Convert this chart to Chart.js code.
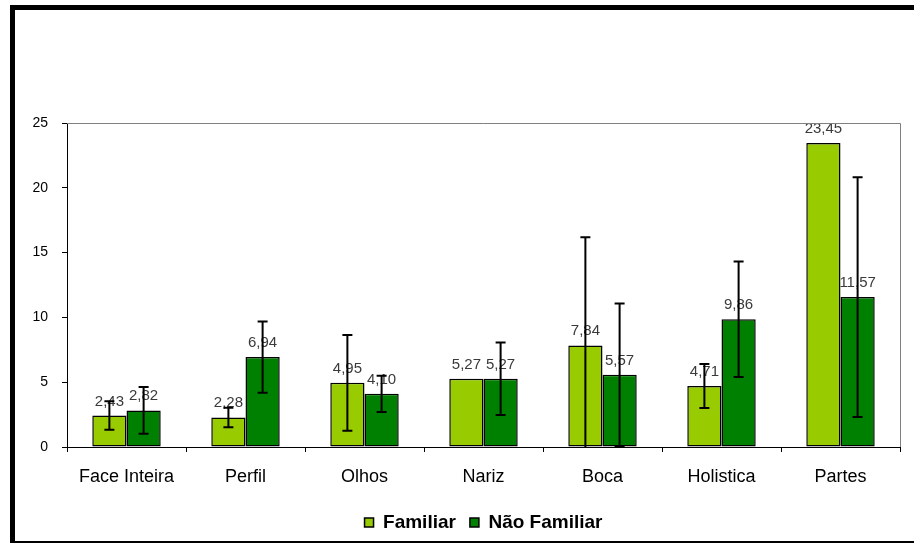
<!DOCTYPE html>
<html lang="pt">
<head>
  <meta charset="UTF-8" />
  <title>Familiar vs Não Familiar</title>
  <script src="https://cdn.jsdelivr.net/npm/chart.js"></script>
  <style>
    body { margin: 0; padding: 0; background: #fff; }
    .wrap { width: 914px; height: 543px; position: relative; }
  </style>
</head>
<body>
  <div class="wrap"><canvas id="chart" width="914" height="543"></canvas></div>
  <script>
    // data
    const categories = ['Face Inteira', 'Perfil', 'Olhos', 'Nariz', 'Boca', 'Holistica', 'Partes'];
    const familiar = [2.43, 2.28, 4.95, 5.27, 7.84, 4.71, 23.45];
    const naoFamiliar = [2.82, 6.94, 4.10, 5.27, 5.57, 9.86, 11.57];
    const familiarErr = [1.1, 0.75, 3.7, 0, 8.35, 1.7, 0];
    const naoFamiliarErr = [1.8, 2.75, 1.4, 2.8, 5.5, 4.45, 9.25];
    const yTicks = [0, 5, 10, 15, 20, 25];

    const errors = [familiarErr, naoFamiliarErr];
    const fmt = v => v.toFixed(2).replace('.', ',');

    // black frame of the slide around the chart
    const framePlugin = {
      id: 'frame',
      beforeDraw(chart) {
        const ctx = chart.ctx;
        ctx.save();
        ctx.fillStyle = '#fff';
        ctx.fillRect(0, 0, chart.width, chart.height);
        ctx.fillStyle = '#000';
        ctx.fillRect(10, 5, chart.width - 10, 5);
        ctx.fillRect(10, 5, 5, chart.height - 5);
        ctx.fillRect(10, chart.height - 2, chart.width - 10, 2);
        ctx.restore();
      },
      afterDraw(chart) {
        // grey top and right edge of the plot area
        const { ctx, chartArea: a } = chart;
        ctx.save();
        ctx.strokeStyle = '#808080';
        ctx.lineWidth = 1;
        ctx.beginPath();
        ctx.moveTo(a.left, a.top + 0.5);
        ctx.lineTo(a.right + 0.5, a.top + 0.5);
        ctx.lineTo(a.right + 0.5, a.bottom);
        ctx.stroke();
        ctx.restore();
      }
    };

    // value labels, then error bars on top of them
    const labelsAndErrors = {
      id: 'labelsAndErrors',
      afterDatasetsDraw(chart) {
        const ctx = chart.ctx;
        const y = chart.scales.y;
        const a = chart.chartArea;
        ctx.save();
        ctx.font = '15px "Liberation Sans", Arial, sans-serif';
        ctx.fillStyle = '#3a3a3a';
        ctx.textAlign = 'center';
        ctx.textBaseline = 'alphabetic';
        chart.data.datasets.forEach((ds, di) => {
          chart.getDatasetMeta(di).data.forEach((bar, i) => {
            ctx.fillText(fmt(ds.data[i]), bar.x, bar.y - 10);
          });
        });
        ctx.strokeStyle = '#000';
        ctx.lineWidth = 2;
        chart.data.datasets.forEach((ds, di) => {
          chart.getDatasetMeta(di).data.forEach((bar, i) => {
            const e = errors[di][i];
            if (!e) return;
            const v = ds.data[i];
            const top = y.getPixelForValue(v + e);
            const lowVal = v - e;
            const bot = Math.min(y.getPixelForValue(lowVal), a.bottom);
            ctx.beginPath();
            ctx.moveTo(bar.x, top);
            ctx.lineTo(bar.x, bot);
            ctx.moveTo(bar.x - 5, top);
            ctx.lineTo(bar.x + 5, top);
            if (lowVal >= 0) {
              ctx.moveTo(bar.x - 5, bot);
              ctx.lineTo(bar.x + 5, bot);
            }
            ctx.stroke();
          });
        });
        ctx.restore();
      }
    };

    Chart.defaults.font.family = '"Liberation Sans", Arial, sans-serif';
    Chart.defaults.color = '#000';

    new Chart(document.getElementById('chart'), {
      type: 'bar',
      data: {
        labels: categories,
        datasets: [
          {
            label: 'Familiar',
            data: familiar,
            backgroundColor: '#99cc00',
            borderColor: '#000',
            borderWidth: 1.5,
            borderSkipped: false,
            barPercentage: 1,
            categoryPercentage: 0.575
          },
          {
            label: 'Não Familiar',
            data: naoFamiliar,
            backgroundColor: '#008000',
            borderColor: '#000',
            borderWidth: 1.5,
            borderSkipped: false,
            barPercentage: 1,
            categoryPercentage: 0.575
          }
        ]
      },
      options: {
        responsive: false,
        animation: false,
        layout: { padding: { top: 123, left: 0, right: 14, bottom: 1 } },
        scales: {
          x: {
            grid: { display: true, drawOnChartArea: false, offset: true, tickLength: 5, color: '#000' },
            border: { color: '#000', width: 1 },
            ticks: { font: { size: 18 }, padding: 14, maxRotation: 0 },
            afterFit: s => { s.height = 52; }
          },
          y: {
            min: 0,
            max: 25,
            afterBuildTicks: s => { s.ticks = yTicks.map(v => ({ value: v })); },
            grid: { display: true, drawOnChartArea: false, tickLength: 5, color: '#000' },
            border: { color: '#000', width: 1 },
            ticks: { font: { size: 14 }, padding: 14 },
            afterFit: s => { s.width = 67; }
          }
        },
        plugins: {
          legend: {
            position: 'bottom',
            fullSize: false,
            labels: {
              boxWidth: 9,
              boxHeight: 9,
              padding: 14,
              font: { size: 19, weight: 'bold' }
            }
          },
          tooltip: { enabled: false }
        }
      },
      plugins: [framePlugin, labelsAndErrors]
    });
  </script>
</body>
</html>
